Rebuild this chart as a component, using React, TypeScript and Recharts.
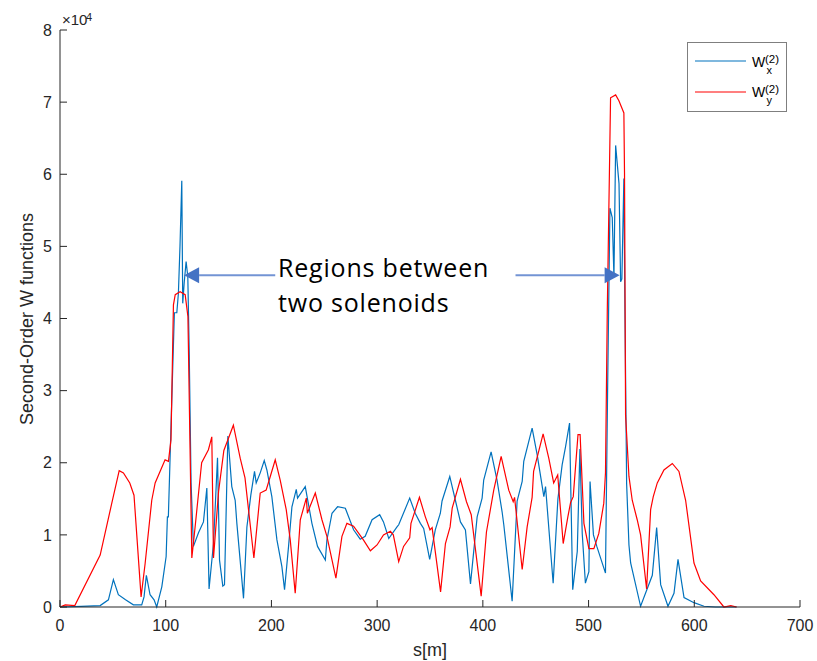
import React from 'react';
import { LineChart, Line, XAxis, YAxis, ReferenceLine } from 'recharts';

// s [m] positions and second-order W functions (units of 1e4)
const sX = [0, 20, 38, 45.8, 50.5, 55.2, 62, 69.4, 77.3, 79.5, 81.7, 85.2, 89, 91.5, 96.3, 100.4, 101.6, 102.5, 104, 106, 108.2, 110.5, 112, 113.5, 115.2, 116.1, 117.5, 119.3, 120.9, 122.2, 124, 126.2, 131, 135.7, 138.9, 141, 145.2, 149, 150.9, 154, 155.6, 158.8, 162.5, 165.7, 167.3, 173.6, 176.8, 180.5, 184, 185.6, 189.4, 193.2, 195.7, 200.4, 205.2, 209.9, 212.4, 216.2, 219.4, 223.5, 224.7, 232, 238.3, 243.6, 251, 252.5, 257.3, 262.6, 269.9, 277.7, 284, 288.7, 295.2, 302.4, 306, 311, 318.8, 320.4, 330.8, 336, 340.9, 344, 349.7, 355, 359.8, 361.4, 368.7, 374, 378.8, 383.5, 388.3, 394.6, 399.3, 400.8, 407.8, 413.4, 418.2, 419.8, 427.7, 432.4, 437.2, 438.7, 446.6, 451.4, 457.7, 459.3, 466.5, 471, 475, 478.2, 482, 485, 489.3, 491.8, 494, 497, 500.3, 501.4, 504.6, 507.8, 516, 518, 520.2, 522.4, 524, 525.6, 528.8, 530.3, 531.5, 533.4, 534.4, 536, 538.2, 539.8, 549.2, 560.3, 564.4, 568.2, 575.1, 580.8, 584.6, 590.3, 599.7, 609.2, 620, 640];
const wX = [0, 0.01, 0.02, 0.1, 0.38, 0.17, 0.1, 0.03, 0.03, 0.14, 0.44, 0.17, 0.1, 0, 0.28, 0.7, 1.25, 1.25, 2.0, 3.0, 4.08, 4.08, 4.35, 5.0, 5.91, 4.21, 4.5, 4.79, 4.58, 3.56, 1.72, 0.84, 1.03, 1.18, 1.65, 0.25, 0.88, 2.07, 0.65, 0.29, 0.31, 2.37, 1.67, 1.48, 1.16, 0.12, 1.11, 1.55, 1.88, 1.72, 1.86, 2.03, 1.9, 1.53, 0.93, 0.56, 0.24, 0.84, 1.39, 1.63, 1.51, 1.67, 1.16, 0.84, 0.65, 0.93, 1.3, 1.39, 1.37, 1.07, 0.94, 0.98, 1.21, 1.28, 1.18, 0.95, 1.11, 1.14, 1.51, 1.3, 1.16, 1.09, 0.66, 1.07, 1.3, 1.47, 1.81, 1.48, 1.18, 1.07, 0.32, 1.25, 1.51, 1.76, 2.15, 1.76, 1.32, 1.14, 0.08, 1.47, 1.74, 2.02, 2.48, 2.11, 1.53, 1.67, 0.33, 1.5, 1.97, 2.22, 2.55, 0.24, 0.77, 2.19, 1.02, 0.33, 0.49, 1.74, 1.0, 0.84, 0.47, 3.0, 5.53, 5.4, 4.58, 6.4, 5.87, 4.51, 4.55, 5.94, 4.1, 1.71, 0.86, 0.61, 0.01, 0.44, 1.1, 0.31, 0.01, 0.19, 0.66, 0.13, 0.06, 0.01, 0, 0];

const sY = [0, 5, 14, 38, 49, 56, 60, 66, 70, 76.7, 80.5, 86.8, 90, 99.4, 102.6, 105, 107.3, 109, 113.6, 118.4, 121, 124.7, 127.8, 134, 140.4, 143.6, 145.2, 150, 155, 164, 170.5, 175, 183.4, 189.4, 195, 198.9, 203.6, 208.3, 214, 217.8, 222.5, 227.3, 233, 234, 241.5, 247.8, 252.5, 261, 266.7, 271.4, 277.7, 287, 293.6, 299.9, 306, 312.5, 315.3, 320.4, 325, 330.8, 332, 340, 345.6, 350, 352, 360, 364.6, 369, 371, 378.8, 384.5, 389, 398.4, 403.4, 410.3, 417.3, 424.5, 428.7, 430, 437.2, 441.9, 446.6, 448, 457, 462.4, 467, 470.8, 476, 480.4, 483, 485.5, 490, 492, 495.6, 500.3, 505, 509.7, 514.4, 516, 517.7, 520.8, 525.6, 528.7, 533.4, 534, 535, 538.2, 541.3, 546, 549.2, 554.9, 558.7, 561.2, 565, 571.3, 579.2, 585.5, 591.8, 599.7, 606, 618.6, 628, 634.5, 640];
const wY = [0, 0.03, 0.02, 0.72, 1.44, 1.89, 1.86, 1.72, 1.55, 0.14, 0.6, 1.48, 1.72, 2.04, 2.02, 2.32, 4.19, 4.33, 4.37, 4.33, 4.03, 0.68, 1.11, 2.0, 2.18, 2.36, 0.68, 1.6, 2.17, 2.52, 2.06, 1.79, 0.68, 1.58, 1.62, 1.81, 2.04, 1.76, 1.35, 0.93, 0.19, 1.21, 1.51, 1.3, 1.58, 1.21, 0.98, 0.4, 0.98, 1.16, 1.12, 0.93, 0.78, 0.86, 1.0, 1.05, 1.0, 0.63, 0.84, 0.96, 1.16, 1.52, 1.25, 1.07, 1.1, 0.21, 0.88, 1.11, 1.37, 1.77, 1.46, 1.28, 0.15, 1.04, 1.62, 2.09, 1.62, 1.46, 1.52, 0.52, 1.11, 1.52, 1.88, 2.4, 2.06, 1.72, 1.83, 0.88, 1.25, 1.45, 1.53, 2.39, 2.39, 1.16, 0.81, 0.81, 1.02, 1.44, 1.86, 4.1, 7.06, 7.1, 7.02, 6.85, 6.02, 2.66, 1.81, 1.48, 1.21, 1.0, 0.25, 1.35, 1.53, 1.72, 1.9, 1.99, 1.88, 1.48, 0.61, 0.36, 0.17, 0, 0.02, 0];

const xTicks = [0, 100, 200, 300, 400, 500, 600, 700];
const yTicks = [0, 1, 2, 3, 4, 5, 6, 7, 8];

// annotation arrows (data coordinates): [from s, to s] at level arrowLevel
const arrowLevel = 4.6;
const arrowLeft = [203.6, 117.4];
const arrowRight = [430.9, 529.4];

const dataX = sX.map((s, i) => ({ s, w: wX[i] }));
const dataY = sY.map((s, i) => ({ s, w: wY[i] }));

const AXIS = '#262626';

const arrowShape = (p: any) => {
  const { x1, y1, x2, y2 } = p;
  const dx = x2 - x1;
  const dy = y2 - y1;
  const len = Math.hypot(dx, dy) || 1;
  const ux = dx / len;
  const uy = dy / len;
  const hl = 15;
  const hw = 8;
  const bx = x2 - ux * hl;
  const by = y2 - uy * hl;
  return (
    <g>
      <line x1={x1} y1={y1} x2={bx} y2={by} stroke="#7394D4" strokeWidth={2} />
      <polygon
        points={`${x2},${y2} ${bx - uy * hw},${by + ux * hw} ${bx + uy * hw},${by - ux * hw}`}
        fill="#4472C4"
      />
    </g>
  );
};

export default function App() {
  return (
    <div
      style={{
        position: 'absolute',
        left: 0,
        top: 0,
        width: 817,
        height: 661,
        background: '#fff',
        fontFamily: '"Liberation Sans", Arial, sans-serif',
      }}
    >
      <LineChart width={817} height={661} margin={{ top: 30, right: 17, bottom: 24, left: 0 }}>
        <XAxis
          xAxisId="b"
          type="number"
          dataKey="s"
          domain={[0, 700]}
          ticks={xTicks}
          interval={0}
          height={30}
          tickSize={-7}
          tickMargin={20}
          stroke={AXIS}
          tick={{ fill: AXIS, fontSize: 16 }}
        />
        <XAxis
          xAxisId="t"
          orientation="top"
          type="number"
          dataKey="s"
          domain={[0, 700]}
          ticks={xTicks}
          interval={0}
          height={0}
          tickSize={-7}
          tickFormatter={() => ''}
          stroke={AXIS}
        />
        <YAxis
          yAxisId="l"
          type="number"
          domain={[0, 8]}
          ticks={yTicks}
          interval={0}
          width={60}
          tickSize={-7}
          tickMargin={15}
          stroke={AXIS}
          tick={{ fill: AXIS, fontSize: 16 }}
        />
        <YAxis
          yAxisId="r"
          orientation="right"
          type="number"
          domain={[0, 8]}
          ticks={yTicks}
          interval={0}
          width={0}
          tickSize={-7}
          tickFormatter={() => ''}
          stroke={AXIS}
        />
        <Line
          xAxisId="b"
          yAxisId="l"
          data={dataX}
          dataKey="w"
          type="linear"
          stroke="#0072BD"
          strokeWidth={1.2}
          dot={false}
          isAnimationActive={false}
        />
        <Line
          xAxisId="b"
          yAxisId="l"
          data={dataY}
          dataKey="w"
          type="linear"
          stroke="#FF0000"
          strokeWidth={1.2}
          dot={false}
          isAnimationActive={false}
        />
        <ReferenceLine
          xAxisId="b"
          yAxisId="l"
          segment={[{ x: arrowLeft[0], y: arrowLevel }, { x: arrowLeft[1], y: arrowLevel }]}
          shape={arrowShape}
        />
        <ReferenceLine
          xAxisId="b"
          yAxisId="l"
          segment={[{ x: arrowRight[0], y: arrowLevel }, { x: arrowRight[1], y: arrowLevel }]}
          shape={arrowShape}
        />
      </LineChart>
      <svg
        width={817}
        height={661}
        style={{ position: 'absolute', left: 0, top: 0, pointerEvents: 'none' }}
      >
        {/* exponent */}
        <text x={62} y={25} fontSize={15} fill={AXIS}>×10</text>
        <text x={86} y={21} fontSize={11} fill={AXIS}>4</text>
        {/* axis labels */}
        <text x={33} y={319} fontSize={18} fill={AXIS} textAnchor="middle" transform="rotate(-90 33 319)">
          Second-Order W functions
        </text>
        <text x={430} y={656} fontSize={18} fill={AXIS} textAnchor="middle">s[m]</text>
        {/* annotation */}
        <text x={278} y={277} fontSize={25} fill="#000" letterSpacing={0.8} fontFamily='"Open Sans", sans-serif'>
          Regions between
        </text>
        <text x={278} y={312} fontSize={25} fill="#000" letterSpacing={0.8} fontFamily='"Open Sans", sans-serif'>
          two solenoids
        </text>
        {/* legend */}
        <rect x={687.5} y={42.5} width={99} height={69} fill="#fff" stroke="#7f7f7f" strokeWidth={1} />
        <line x1={695} y1={61} x2={746} y2={61} stroke="#0072BD" strokeWidth={1.2} />
        <line x1={695} y1={92} x2={746} y2={92} stroke="#FF0000" strokeWidth={1.2} />
        <text x={752} y={67} fontSize={14} fill="#000">W</text>
        <text x={765} y={63} fontSize={11.5} fill="#000">(2)</text>
        <text x={766.5} y={74} fontSize={11} fill="#000">x</text>
        <text x={752} y={97} fontSize={14} fill="#000">W</text>
        <text x={765} y={93} fontSize={11.5} fill="#000">(2)</text>
        <text x={766.5} y={104} fontSize={11} fill="#000">y</text>
      </svg>
    </div>
  );
}
